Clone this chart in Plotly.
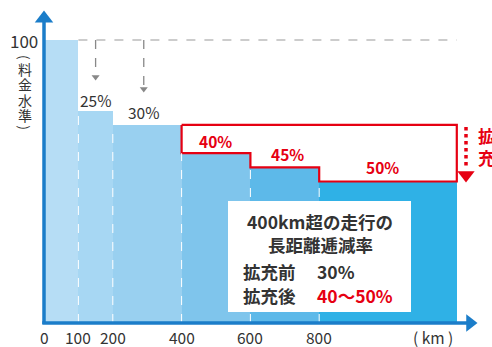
import plotly.graph_objects as go

# Distance bands (km) and toll level per band (index, 0-100 km = 100)
band_edges = [0, 100, 200, 400, 600, 800, 1200]
level_before = [100, 75, 70, 70, 70, 70]
level_after = [100, 75, 70, 60, 55, 50]
band_colors = ["#b6ddf5", "#a7d7f3", "#99d0f0", "#7fc5ec", "#5db9e9", "#2fb1e6"]

tick_values = [0, 100, 200, 400, 600, 800]
tick_labels = ["0", "100", "200", "400", "600", "800"]

discount_labels = ["25%", "30%"]             # existing discounts (100-200, 200-400)
new_discount_labels = ["40%", "45%", "50%"]  # expanded discounts (400-600, 600-800, 800+)

FONT = "Noto Sans CJK JP"
BLUE = "#1b7dc9"
RED = "#e60012"
GRAY = "#888888"
DARK = "#333333"

W, H = 492, 347
X0_PX, Y0_PX = 44, 323          # pixel location of the origin
KX, KY = 0.344, 2.83            # px per km, px per index point

x_range = [-X0_PX / KX, (W - X0_PX) / KX]
y_range = [-(H - Y0_PX) / KY, Y0_PX / KY]


def px_x(px):
    return (px - X0_PX) / KX


def px_y(py):
    return (Y0_PX - py) / KY


centers = [(a + b) / 2 for a, b in zip(band_edges[:-1], band_edges[1:])]
widths = [b - a for a, b in zip(band_edges[:-1], band_edges[1:])]

fig = go.Figure()

fig.add_trace(go.Bar(
    x=centers, y=level_after, width=widths,
    marker=dict(color=band_colors, line=dict(width=0)),
    hoverinfo="skip", showlegend=False,
))

# Red outline: the extra reduction above 400 km (old level down to new steps)
start = band_edges.index(400)
ox, oy = [band_edges[start]], [level_before[start]]
ox.append(band_edges[-1]); oy.append(level_before[-1])
ox.append(band_edges[-1]); oy.append(level_after[-1])
for i in range(len(level_after) - 1, start - 1, -1):
    ox.append(band_edges[i]); oy.append(level_after[i])
    if i > start:
        ox.append(band_edges[i]); oy.append(level_after[i - 1])
ox.append(band_edges[start]); oy.append(level_before[start])
fig.add_trace(go.Scatter(
    x=ox, y=oy, mode="lines", line=dict(color=RED, width=2.2),
    hoverinfo="skip", showlegend=False,
))

shapes = []
# white dashed separators between bands
for i in range(1, len(band_edges) - 1):
    top = min(level_after[i - 1], level_after[i])
    shapes.append(dict(type="line", x0=band_edges[i], x1=band_edges[i], y0=0, y1=top,
                       line=dict(color="white", width=1, dash="dash")))

# gray dashed reference at level 100
shapes.append(dict(type="line", x0=band_edges[1], x1=band_edges[-1], y0=100, y1=100,
                   line=dict(color="#999999", width=1.2, dash="dash")))

# gray dashed drop arrows for existing discounts
drop_x = [150, 290]
drop_tip = [px_y(74), px_y(86)]
for xv, yt in zip(drop_x, drop_tip):
    shapes.append(dict(type="line", x0=xv, x1=xv, y0=100, y1=yt,
                       line=dict(color=GRAY, width=1.3, dash="dash")))

# red dotted arrow on the right
shapes.append(dict(type="line", x0=px_x(466), x1=px_x(466), y0=px_y(127), y1=px_y(166),
                   line=dict(color=RED, width=3.5, dash="dot")))

# white info box
shapes.append(dict(type="rect", x0=px_x(228), x1=px_x(411), y0=px_y(312), y1=px_y(201),
                   fillcolor="white", line=dict(width=0)))

# axes
shapes.append(dict(type="line", x0=0, x1=0, y0=px_y(Y0_PX + 1), y1=px_y(20),
                   line=dict(color=BLUE, width=3.5)))
shapes.append(dict(type="line", x0=px_x(42.3), x1=px_x(468), y0=0, y1=0,
                   line=dict(color=BLUE, width=3.5)))

fig.update_layout(shapes=shapes)

# arrowheads
fig.add_trace(go.Scatter(x=[0], y=[px_y(18.5)], mode="markers",
                         marker=dict(symbol="triangle-up", size=16, color=BLUE),
                         hoverinfo="skip", showlegend=False, cliponaxis=False))
fig.add_trace(go.Scatter(x=[px_x(470)], y=[0], mode="markers",
                         marker=dict(symbol="triangle-right", size=15, color=BLUE),
                         hoverinfo="skip", showlegend=False, cliponaxis=False))
fig.add_trace(go.Scatter(x=drop_x, y=[px_y(77), px_y(89)], mode="markers",
                         marker=dict(symbol="triangle-down", size=7, color=GRAY),
                         hoverinfo="skip", showlegend=False, cliponaxis=False))
fig.add_trace(go.Scatter(x=[px_x(466)], y=[px_y(175)], mode="markers",
                         marker=dict(symbol="triangle-down", size=15, color=RED),
                         hoverinfo="skip", showlegend=False, cliponaxis=False))

ann = []


def text(x, y, s, size=14, color=DARK, bold=False, xanchor="center", angle=0):
    if bold:
        s = "<b>" + s + "</b>"
    ann.append(dict(x=x, y=y, text=s, showarrow=False, xanchor=xanchor, yanchor="middle",
                    textangle=angle, borderpad=0,
                    font=dict(family=FONT, size=size, color=color)))


# x tick labels
for v, lab in zip(tick_values, tick_labels):
    text(v, px_y(337), lab, size=15.5)
text(px_x(433), px_y(337), "( km )", size=15.5)

# y label, written vertically one glyph per row
text(px_x(24), 100, "100", size=17)
text(px_x(25), px_y(57), "(", size=13.5, angle=90)
for ch, py in zip(["料", "金", "水", "準"], [69, 84, 99.5, 115]):
    text(px_x(25), px_y(py), ch, size=14)
text(px_x(25), px_y(127.5), ")", size=13.5, angle=90)

# existing discount labels
text(drop_x[0], px_y(100), discount_labels[0], size=15.5)
text(drop_x[1], px_y(112), discount_labels[1], size=15.5)

# new discount labels
text(px_x(215), px_y(141), new_discount_labels[0], size=15.5, color=RED, bold=True)
text(px_x(287), px_y(154), new_discount_labels[1], size=15.5, color=RED, bold=True)
text(px_x(382), px_y(167), new_discount_labels[2], size=15.5, color=RED, bold=True)

# vertical red note
text(px_x(486), px_y(135), "拡", size=17, color=RED, bold=True)
text(px_x(486), px_y(157), "充", size=17, color=RED, bold=True)

# info box text
text(px_x(320), px_y(221.5), "400km超の走行の", size=17.5, bold=True)
text(px_x(320), px_y(244.5), "長距離逓減率", size=17.5, bold=True)
text(px_x(242), px_y(271), "拡充前", size=17.5, bold=True, xanchor="left")
text(px_x(316), px_y(271), "30%", size=17.5, bold=True, xanchor="left")
text(px_x(242), px_y(295), "拡充後", size=17.5, bold=True, xanchor="left")
text(px_x(316), px_y(295), "40～50%", size=17.5, color=RED, bold=True, xanchor="left")

fig.update_layout(
    annotations=ann,
    width=W, height=H,
    margin=dict(l=0, r=0, t=0, b=0),
    paper_bgcolor="white", plot_bgcolor="white",
    xaxis=dict(range=x_range, visible=False, fixedrange=True),
    yaxis=dict(range=y_range, visible=False, fixedrange=True),
    bargap=0,
)

fig.write_html("out.html")
